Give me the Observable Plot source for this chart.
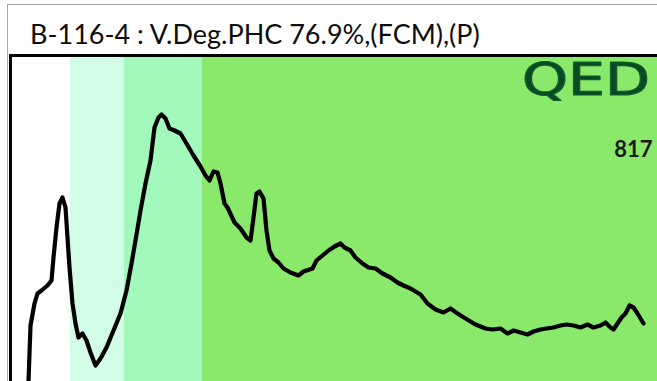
<!DOCTYPE html>
<html>
<head>
<meta charset="utf-8">
<script src="https://cdn.jsdelivr.net/npm/d3@7"></script>
<script src="https://cdn.jsdelivr.net/npm/@observablehq/plot@0.6"></script>
<style>
  html, body { margin: 0; padding: 0; background: #fff; }
  #wrap { position: relative; width: 657px; height: 381px; overflow: hidden; background: #fff; }
  #outline { position: absolute; left: 7px; top: 4px; right: -2px; bottom: -2px;
             border-left: 1px solid #a6a6a6; border-top: 1px solid #a6a6a6; }
  #title { position: absolute; left: 30px; top: 18px; line-height: 32px; white-space: nowrap;
           font-family: Lato, "Open Sans", sans-serif; font-size: 27px; color: #0d0d0d; }
  #chart { position: absolute; left: 9px; top: 54px; border-top: 3px solid #000; border-left: 3px solid #000; line-height: 0; }
</style>
</head>
<body>
<div id="wrap">
  <div id="outline"></div>
  <div id="title"></div>
  <div id="chart"></div>
</div>
<script>
const titleText = "B-116-4 : V.Deg.PHC 76.9%,(FCM),(P)";
const peakLabel = "817";
const logoText = "QED";

// histogram channels and counts
const channel = [16,18,22,25,29,35,39,41,44,47,
  50,53,55,57,60,63,66,70,74,78,
  83,88,94,101,108,114,119,123,128,133,
  138,142,146,149,153,157,162,168,174,181,
  188,193,197,201,205,208,212,215,222,228,
  234,238,241,244,247,251,254,257,261,266,
  271,278,286,291,297,300,304,310,316,322,
  328,332,338,343,350,356,363,370,378,385,
  391,398,408,415,423,431,438,445,453,463,
  473,480,488,495,501,508,515,521,528,534,
  541,548,554,561,568,575,581,588,593,598,
  601,605,609,613,617,621,625,628,631];
const count = [0,56,78,88,91,96,101,124,154,178,
  184,174,144,114,78,58,44,48,41,29,
  16,23,34,51,68,91,118,141,171,198,
  221,254,264,267,263,253,251,248,238,226,
  215,206,201,210,209,198,178,174,159,153,
  144,141,164,188,190,183,151,131,123,119,
  113,109,106,110,112,113,121,126,131,135,
  138,134,131,124,118,114,113,108,104,99,
  96,93,87,78,72,69,73,68,63,57,
  53,52,53,48,51,49,47,50,52,53,
  54,56,57,56,54,57,54,56,59,54,
  52,58,64,68,76,74,68,63,58];

// gate regions
const bandStart = [0, 58, 112, 190];
const bandEnd   = [58, 112, 190, 645];
const bandColor = ["#ffffff", "#d2fce6", "#a2f9bb", "#8ae86b"];

const xMax = 645, yMax = 324;

document.getElementById("title").textContent = titleText;

const series = channel.map((c, i) => ({channel: c, count: count[i]}));
const bands = bandStart.map((s, i) => ({x1: s, x2: bandEnd[i], fill: bandColor[i]}));

const svg = Plot.plot({
  width: 645,
  height: 324,
  marginTop: 0, marginLeft: 0, marginRight: 0, marginBottom: 0,
  x: {domain: [0, xMax], axis: null},
  y: {domain: [0, yMax], axis: null},
  style: {background: "#ffffff", overflow: "hidden"},
  marks: [
    Plot.rect(bands, {x1: "x1", x2: "x2", y1: 0, y2: yMax, fill: d => d.fill}),
    Plot.line(series, {x: "channel", y: "count", stroke: "#000", strokeWidth: 4.2,
      strokeLinejoin: "round", strokeLinecap: "round", curve: "linear"}),
    Plot.text([peakLabel], {text: d => d, frameAnchor: "top-right", dx: -5, dy: 99,
      textAnchor: "end", lineAnchor: "bottom", fontSize: 22, fontWeight: "bold",
      fontFamily: "Lato, 'Open Sans', sans-serif", fill: "#1a1a1a"})
  ]
});
svg.setAttribute("font-family", "Lato, sans-serif");
d3.select(svg).append("text")
  .attr("transform", "translate(510,38) scale(1.33,1)")
  .attr("text-anchor", "start")
  .attr("font-family", "DejaVu Sans, sans-serif")
  .attr("font-size", 44)
  .attr("fill", "#0a4a22")
  .attr("stroke", "#0d5f2c")
  .attr("stroke-width", 1.2)
  .attr("stroke-linejoin", "round")
  .text(logoText);
document.getElementById("chart").appendChild(svg);
</script>
</body>
</html>
